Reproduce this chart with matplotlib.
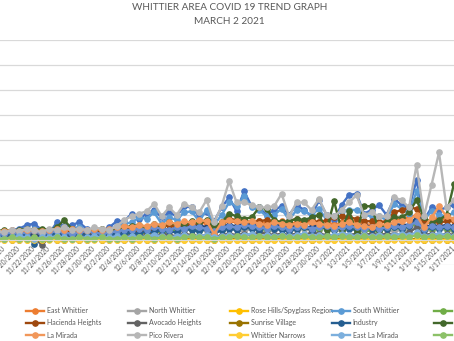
import matplotlib
matplotlib.use("Agg")
import matplotlib.pyplot as plt
import pandas as pd

plt.rcParams['font.family'] = ['Lato', 'DejaVu Sans']

# daily new cases, 11/17/2020 through 1/17/2021
dates = pd.date_range('2020-11-17', '2021-01-17')

whittier = [7, 7, 8, 9, 12, 13, 8, 5, 14, 11, 12, 14, 9, 8, 7, 10, 15, 15,
            21, 17, 21, 24, 18, 22, 19, 27, 26, 19, 22, 15, 26,
            34, 23, 39, 27, 26, 20, 24, 27, 20, 28, 24, 19, 32, 20, 16, 28, 36, 37, 21, 24,
            28, 20, 33, 28, 25, 48, 16, 26, 24, 26, 28]
east_whittier = [6, 7, 6, 7, 8, 7, 6, 8, 7, 8, 9, 8, 7, 8, 9, 8, 9, 10,
                 11, 10, 9, 12, 11, 12, 11, 13, 12, 14, 13, 4, 13,
                 15, 14, 16, 14, 15, 13, 14, 15, 13, 14, 15, 13, 14, 15, 12, 14, 16, 15, 13, 12,
                 14, 15, 17, 16, 18, 20, 12, 15, 18, 16, 15]
north_whittier = [4, 5, 4, 5, 4, 5, 4, 5, 6, 5, 4, 5, 6, 5, 4, 5, 6, 6,
                  6, 7, 6, 8, 7, 6, 8, 7, 9, 8, 7, 5, 8,
                  9, 8, 7, 9, 8, 7, 8, 9, 7, 8, 9, 7, 8, 9, 8, 7, 9, 8, 7, 8,
                  9, 8, 7, 8, 9, 12, 7, 8, 9, 8, 7]
rose_hills = [1, 0, 1, 1, 0, 1, 0, 1, 1, 0, 1, 0, 1, 1, 0, 1, 0, 1,
              1, 0, 1, 1, 0, 1, 1, 0, 1, 0, 1, 0, 1,
              1, 0, 1, 1, 0, 1, 0, 1, 1, 0, 1, 0, 1, 1, 0, 1, 0, 1, 1, 0,
              1, 0, 1, 1, 0, 1, 0, 1, 1, 0, 1]
south_whittier = [6, 6, 7, 7, 8, 9, 7, 6, 10, 9, 9, 10, 8, 7, 7, 8, 11, 13,
                  14, 18, 17, 22, 13, 18, 16, 22, 23, 15, 24, 12, 20,
                  30, 27, 35, 26, 24, 19, 20, 25, 16, 24, 23, 20, 25, 16, 19, 23, 24, 24, 20, 19,
                  19, 16, 29, 25, 21, 39, 16, 23, 20, 19, 22]
los_nietos = [3, 2, 3, 4, 3, 2, 3, 4, 3, 3, 4, 3, 2, 3, 4, 3, 4, 5,
              5, 6, 5, 7, 6, 8, 7, 9, 8, 7, 9, 5, 8,
              10, 9, 11, 10, 9, 8, 10, 9, 8, 9, 10, 8, 9, 10, 8, 9, 10, 9, 8, 7,
              8, 9, 10, 9, 11, 13, 8, 9, 10, 9, 8]
west_whittier = [3, 4, 3, 4, 5, 4, 3, 4, 5, 4, 3, 4, 5, 4, 3, 4, 5, 6,
                 7, 6, 8, 7, 9, 8, 10, 12, 11, 12, 10, 6, 11,
                 12, 11, 13, 12, 11, 12, 13, 11, 10, 12, 11, 10, 12, 11, 10, 12, 13, 11, 12, 10,
                 11, 12, 13, 12, 12, 18, 10, 12, 11, 12, 11]
hacienda_heights = [5, 5, 6, 5, 6, 7, 5, 6, 7, 6, 7, 6, 5, 6, 7, 8, 9, 10,
                    9, 8, 6, 10, 11, 12, 10, 13, 12, 14, 15, 10, 14,
                    17, 16, 15, 14, 15, 16, 15, 14, 15, 17, 15, 16, 14, 16, 18, 19, 18, 17, 15, 15,
                    14, 15, 22, 24, 26, 25, 16, 15, 14, 15, 16]
avocado_heights = [3, 2, 3, 2, 3, 2, -4, 2, 3, 2, 3, 2, 3, 2, 3, 2, 3, 3,
                   4, 3, 4, 3, 5, 4, 3, 5, 4, 3, 4, 2, 4,
                   5, 4, 5, 4, 6, 5, 4, 5, 4, 5, 4, 6, 5, 4, 3, 5, 4, 5, 4, 5,
                   4, 5, 4, 5, 6, 10, 4, 5, 4, 5, 4]
sunrise_village = [0, 1, 0, 0, 1, 0, 0, 1, 0, 0, 1, 0, 0, 1, 0, 0, 1, 0,
                   0, 1, 0, 0, 1, 0, 0, 1, 0, 1, 0, 0, 1,
                   0, 1, 0, 0, 1, 0, 1, 0, 0, 1, 0, 0, 1, 0, 1, 0, 0, 1, 0, 0,
                   1, 0, 1, 0, 0, 1, 0, 0, 1, 0, 0]
industry = [4, 4, 5, 4, 4, -3, 3, 4, 5, 4, 4, 5, 4, 3, 4, 5, 4, 5,
            6, 5, 7, 6, 8, 7, 6, 9, 8, 7, 9, 5, 8,
            9, 8, 10, 9, 8, 10, 9, 8, 7, 9, 10, 8, 11, 9, 8, 10, 9, 8, 10, 9,
            8, 9, 10, 9, 11, 15, 8, 10, 9, 10, 9]
montebello = [7, 8, 7, 8, 9, 8, 9, 8, 10, 16, 9, 8, 7, 8, 9, 8, 9, 10,
              11, 12, 10, 13, 11, 14, 12, 13, 15, 14, 16, 11, 14,
              21, 19, 17, 18, 26, 25, 16, 14, 15, 17, 16, 18, 20, 8, 31, 8, 23, 6, 27, 27,
              7, 14, 18, 18, 22, 32, 18, 14, 16, 20, 45]
santa_fe_springs = [5, 5, 6, 5, 6, 7, 5, 6, 7, 6, 5, 6, 7, 6, 5, 6, 7, 8,
                    8, 9, 8, 10, 9, 8, 10, 9, 11, 10, 9, 7, 10,
                    11, 10, 12, 11, 10, 9, 11, 10, 9, 10, 11, 9, 10, 11, 9, 10, 11, 10, 9, 10,
                    9, 10, 11, 10, 12, 14, 9, 11, 10, 11, 10]
la_mirada = [7, 7, 8, 7, 8, 8, 7, 8, 9, 8, 9, 8, 8, 9, 8, 9, 10, 11,
             10, 12, 11, 13, 12, 14, 13, 15, 14, 16, 15, 5, 14,
             16, 15, 14, 15, 13, 12, 14, 13, 12, 13, 12, 14, 13, 12, 11, 13, 14, 12, 11, 10,
             13, 12, 14, 15, 16, 20, 10, 18, 27, 19, 17]
pico_rivera = [7, 6, 8, 7, 9, 8, 6, 9, 8, 10, 8, 9, 8, 10, 9, 8, 11, 16,
               19, 21, 23, 29, 19, 26, 20, 29, 26, 22, 32, 14, 27,
               47, 30, 30, 28, 26, 26, 27, 37, 19, 30, 30, 24, 33, 20, 19, 24, 30, 36, 20, 22,
               19, 19, 34, 32, 26, 60, 19, 44, 70, 26, 32]
whittier_narrows = [0, 0, 0, 0, 0, 0, 0, 0, 0, 0, 0, 0, 0, 0, 0, 0, 0, 0,
                    0, 0, 0, 0, 0, 0, 0, 0, 0, 0, 0, 0, 0,
                    0, 0, 0, 0, 0, 0, 0, 0, 0, 0, 0, 0, 0, 0, 0, 0, 0, 0, 0, 0,
                    0, 0, 0, 0, 0, 0, 0, 0, 0, 0, 0]
east_la_mirada = [2, 1, 2, 3, 2, 1, 2, 2, 3, 2, 1, 2, 2, 3, 2, 2, 3, 2,
                  3, 2, 3, 4, 3, 2, 3, 4, 3, 3, 4, 2, 3,
                  4, 3, 4, 5, 3, 4, 3, 4, 3, 4, 5, 3, 4, 3, 4, 5, 4, 3, 4, 3,
                  4, 3, 4, 5, 4, 6, 3, 4, 5, 4, 3]
la_habra_heights = [1, 1, 2, 1, 1, 2, 1, 1, 2, 1, 1, 2, 1, 1, 2, 1, 1, 2,
                    1, 2, 2, 1, 2, 2, 1, 2, 3, 2, 2, 1, 2,
                    2, 3, 2, 2, 3, 2, 2, 3, 2, 2, 3, 2, 2, 3, 2, 3, 2, 2, 3, 2,
                    2, 3, 2, 3, 2, 4, 2, 3, 2, 3, 2]

names = ['Whittier', 'East Whittier', 'North Whittier', 'Rose Hills/Spyglass Region',
         'South Whittier', 'Los Nietos', 'West Whittier', 'Hacienda Heights',
         'Avocado Heights', 'Sunrise Village', 'Industry', 'Montebello',
         'Santa Fe Springs', 'La Mirada', 'Pico Rivera', 'Whittier Narrows',
         'East La Mirada', 'La Habra Heights']
series = [whittier, east_whittier, north_whittier, rose_hills, south_whittier,
          los_nietos, west_whittier, hacienda_heights, avocado_heights,
          sunrise_village, industry, montebello, santa_fe_springs, la_mirada,
          pico_rivera, whittier_narrows, east_la_mirada, la_habra_heights]
colors = ['#4472C4', '#ED7D31', '#A5A5A5', '#FFC000', '#5B9BD5', '#70AD47',
          '#264478', '#9E480E', '#636363', '#997300', '#255E91', '#43682B',
          '#698ED0', '#F1975A', '#B7B7B7', '#FFCD33', '#7CAFDD', '#8CC168']

fig = plt.figure(figsize=(4.54, 3.41), dpi=100)
ax = fig.add_axes([0, 0.2229, 1, 0.6598])

x = list(range(len(dates)))
handles = []
for vals, name, c in zip(series, names, colors):
    h, = ax.plot(x, vals, color=c, lw=1.7, marker='o', ms=3.8, label=name)
    handles.append(h)

ax.set_xlim(0.442, 60.73)
ax.set_ylim(-20, 160)
ax.set_yticks(range(-20, 161, 20))
ax.yaxis.grid(True, color='#d9d9d9', lw=0.9)
ax.set_axisbelow(True)
ax.tick_params(axis='y', left=False, labelleft=False)
for side in ['left', 'right', 'top']:
    ax.spines[side].set_visible(False)
ax.spines['bottom'].set_position(('data', 0))
ax.spines['bottom'].set_color('#d9d9d9')

tick_pos = x[1::2]
tick_lab = [f"{d.month}/{d.day}/{d.year}" for d in dates[1::2]]
ax.set_xticks(tick_pos)
ax.set_xticklabels(tick_lab, rotation=45, ha='right', va='center',
                   rotation_mode='anchor', fontsize=4.8, color='#595959')
ax.tick_params(axis='x', length=0, pad=5)

fig.text(0.505, 1 - 7.5 / 341, 'WHITTIER AREA COVID 19 TREND GRAPH',
         ha='center', va='center', fontsize=7.2, color='#595959')
fig.text(0.505, 1 - 22 / 341, 'MARCH 2 2021',
         ha='center', va='center', fontsize=7.2, color='#595959')

# legend laid out like the spreadsheet: six evenly spaced columns, three rows
for col in range(6):
    hs = [handles[col], handles[col + 6], handles[col + 12]]
    left = (-76 + 102 * col) / 454
    fig.legend(handles=hs, loc='upper left', bbox_to_anchor=(left, 0.099),
               frameon=False, fontsize=5.0, borderpad=0, borderaxespad=0,
               handlelength=2.6, handletextpad=0.4, labelspacing=0.75,
               labelcolor='#595959')

fig.savefig('out.png', dpi=100)
